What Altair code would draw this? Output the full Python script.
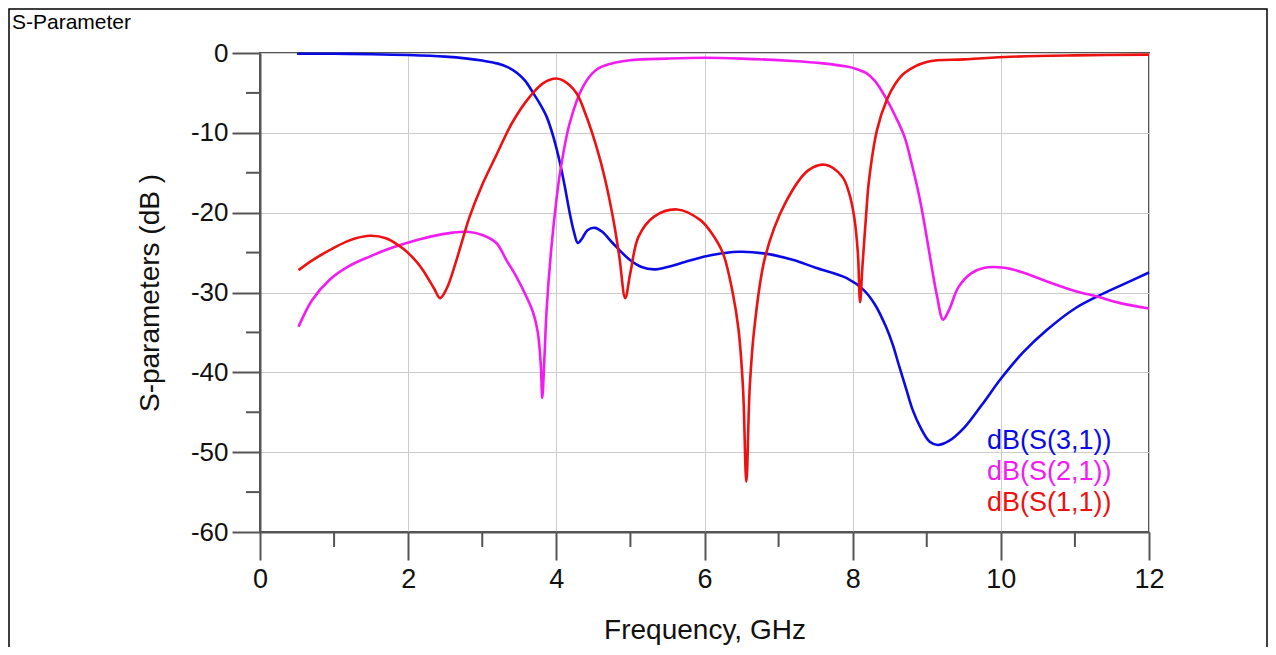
import altair as alt
import pandas as pd

# ---------------- data ----------------
names = ["dB(S(3,1))", "dB(S(2,1))", "dB(S(1,1))"]
colors = ["#0a0ae6", "#f21cf2", "#ee1111"]

s31_f = [0.5, 1.0, 1.5, 2.0, 2.5, 2.8, 3.0, 3.2, 3.35, 3.47, 3.58, 3.68, 3.78, 3.87,
         3.96, 4.05, 4.12, 4.18, 4.24, 4.29, 4.35, 4.42, 4.52, 4.62, 4.76, 4.99, 5.15,
         5.32, 5.5, 5.8, 6.1, 6.46, 6.8, 7.19, 7.5, 7.92, 8.15, 8.3, 8.45, 8.54, 8.63,
         8.72, 8.81, 8.92, 9.04, 9.15, 9.3, 9.5, 9.75, 10.0, 10.3, 10.62, 11.0, 11.3,
         11.6, 12.0]
s31_db = [-0.1, -0.1, -0.15, -0.25, -0.45, -0.7, -0.95, -1.3, -1.8, -2.5, -3.5, -4.9,
          -6.4, -8.0, -10.5, -13.8, -17.0, -20.0, -22.5, -23.8, -23.2, -22.2, -21.9,
          -22.4, -23.8, -25.9, -26.8, -27.1, -26.8, -26.0, -25.3, -24.9, -25.1, -25.9,
          -26.9, -28.2, -29.7, -31.5, -34.3, -36.5, -39.3, -42.0, -44.7, -47.0, -48.7,
          -49.1, -48.6, -47.0, -44.0, -40.8, -37.5, -34.7, -32.0, -30.5, -29.2, -27.5]

s21_f = [0.52, 0.7, 0.94, 1.2, 1.48, 1.75, 1.98, 2.3, 2.6, 2.8, 3.0, 3.19, 3.33, 3.46,
         3.6, 3.69, 3.75, 3.79, 3.81, 3.84, 3.87, 3.93, 4.0, 4.05, 4.18, 4.36, 4.54,
         4.75, 4.99, 5.5, 6.0, 6.5, 7.19, 7.6, 7.92, 8.05, 8.18, 8.3, 8.44, 8.57, 8.7,
         8.8, 8.9, 8.98, 9.06, 9.14, 9.22, 9.3, 9.43, 9.6, 9.78, 10.05, 10.3, 10.56,
         11.0, 11.3, 11.6, 12.0]
s21_db = [-34.3, -31.0, -28.4, -26.7, -25.5, -24.5, -23.8, -23.0, -22.5, -22.4, -22.8,
          -23.8, -26.0, -28.0, -30.6, -32.6, -35.0, -39.0, -43.2, -38.0, -32.0, -24.7,
          -18.5, -15.0, -8.8, -4.2, -2.1, -1.3, -0.9, -0.7, -0.6, -0.7, -1.0, -1.3,
          -1.7, -2.0, -2.5, -3.5, -5.5, -7.8, -10.5, -14.0, -18.0, -22.0, -26.4, -30.5,
          -33.4, -32.2, -29.3, -27.6, -26.9, -26.9, -27.5, -28.4, -29.8, -30.5, -31.3,
          -32.0]

s11_f = [0.52, 0.7, 0.94, 1.2, 1.48, 1.7, 1.93, 2.1, 2.2, 2.35, 2.43, 2.52, 2.65, 2.83,
         3.0, 3.19, 3.4, 3.64, 3.82, 4.0, 4.1, 4.27, 4.4, 4.54, 4.65, 4.77, 4.85, 4.93,
         5.0, 5.11, 5.32, 5.63, 5.94, 6.1, 6.25, 6.38, 6.46, 6.52, 6.565, 6.61, 6.67,
         6.82, 7.09, 7.4, 7.63, 7.86, 7.95, 8.02, 8.07, 8.1, 8.13, 8.18, 8.22, 8.33,
         8.46, 8.58, 8.7, 9.01, 9.5, 10.05, 11.0, 12.0]
s11_db = [-27.2, -26.0, -24.7, -23.5, -22.9, -23.2, -24.5, -26.0, -27.2, -29.5, -30.7,
          -29.5, -26.0, -20.5, -16.5, -12.8, -8.8, -5.5, -3.8, -3.2, -3.5, -5.0, -7.8,
          -11.7, -15.5, -20.9, -25.5, -30.7, -27.5, -23.0, -20.5, -19.6, -20.9, -22.6,
          -25.1, -30.0, -34.7, -42.0, -53.7, -42.0, -34.7, -25.5, -18.8, -14.7, -14.0,
          -15.5, -17.5, -20.5, -25.0, -31.2, -27.0, -20.5, -16.0, -9.6, -5.9, -3.8,
          -2.5, -1.1, -0.8, -0.5, -0.3, -0.2]

x_major = [0, 2, 4, 6, 8, 10, 12]
x_minor = [1, 3, 5, 7, 9, 11]
y_major = [0, -10, -20, -30, -40, -50, -60]
y_minor = [-5, -15, -25, -35, -45, -55]

title_text = "S-Parameter"
x_title = "Frequency, GHz"
y_title = "S-parameters (dB )"

# ---------------- build table ----------------
rows = []
for name, fs, ds in zip(names, [s31_f, s21_f, s11_f], [s31_db, s21_db, s11_db]):
    for f, d in zip(fs, ds):
        rows.append({"series": name, "f": f, "db": d})
df = pd.DataFrame(rows)

W, H = 889, 479
FONT = "Liberation Sans"
AX = "#555555"

xscale = alt.Scale(domain=[0, 12], nice=False, zero=False)
yscale = alt.Scale(domain=[-60, 0], nice=False, zero=False)
cscale = alt.Scale(domain=names, range=colors)

x_axis = alt.Axis(
    values=x_major, tickSize=28, tickWidth=2, tickColor=AX,
    domainColor=AX, domainWidth=2, grid=True, gridColor="#cccccc", gridWidth=1,
    labelFont=FONT, labelFontSize=27, labelColor="#111111", labelPadding=6,
    labelFlush=False, labelOverlap=False, labelExpr="'' + datum.value",
    title=x_title, titleFont=FONT, titleFontSize=28, titleFontWeight="normal",
    titleColor="#111111", titleX=W / 2, titleY=106, titleBaseline="alphabetic",
    titleAnchor="middle")
y_axis = alt.Axis(
    values=y_major, tickSize=28, tickWidth=2, tickColor=AX,
    domainColor=AX, domainWidth=2, grid=True, gridColor="#cccccc", gridWidth=1,
    labelFont=FONT, labelFontSize=26, labelColor="#111111", labelPadding=4,
    labelFlush=False, labelOverlap=False, labelExpr="'' + datum.value",
    title=y_title, titleFont=FONT, titleFontSize=28, titleFontWeight="normal",
    titleColor="#111111", titleX=-110, titleY=H / 2, titleAngle=-90,
    titleBaseline="middle", titleAnchor="middle")

lines = alt.Chart(df).mark_line(strokeWidth=2.6, interpolate="catmull-rom").encode(
    x=alt.X("f:Q", scale=xscale, axis=x_axis),
    y=alt.Y("db:Q", scale=yscale, axis=y_axis),
    color=alt.Color("series:N", scale=cscale, legend=None),
)

minor_x = alt.Chart(pd.DataFrame({"f": x_minor})).mark_rule(
    color=AX, strokeWidth=2).encode(
    x=alt.X("f:Q", scale=xscale, axis=x_axis),
    y=alt.value(H), y2=alt.value(H + 15))

minor_y = alt.Chart(pd.DataFrame({"db": y_minor})).mark_rule(
    color=AX, strokeWidth=2).encode(
    y=alt.Y("db:Q", scale=yscale, axis=y_axis),
    x=alt.value(-14), x2=alt.value(0))

legend_layers = []
for i, (name, col) in enumerate(zip(names, colors)):
    legend_layers.append(
        alt.Chart(pd.DataFrame({"t": [name]})).mark_text(
            font=FONT, fontSize=27, align="left", baseline="alphabetic", color=col
        ).encode(text="t:N", x=alt.value(727), y=alt.value(396 + 31 * i))
    )

title = alt.Chart(pd.DataFrame({"t": [title_text]})).mark_text(
    font=FONT, fontSize=21, align="left", baseline="alphabetic", color="#000000"
).encode(text="t:N", x=alt.value(-248), y=alt.value(-24))

frame = alt.Chart(pd.DataFrame({"k": [0]})).mark_rect(
    fill="transparent", stroke="#000000", strokeWidth=1.5).encode(
    x=alt.value(-251), x2=alt.value(1007), y=alt.value(-44), y2=alt.value(620))

chart = alt.layer(lines, minor_x, minor_y, frame, *legend_layers, title).properties(
    width=W, height=H,
    background="white",
    autosize=alt.AutoSizeParams(type="none"),
    padding={"left": 252, "top": 45, "right": 119, "bottom": 115},
).configure_view(stroke=AX, strokeWidth=2)

chart.save("out.html", embed_options={"renderer": "svg", "actions": False})
